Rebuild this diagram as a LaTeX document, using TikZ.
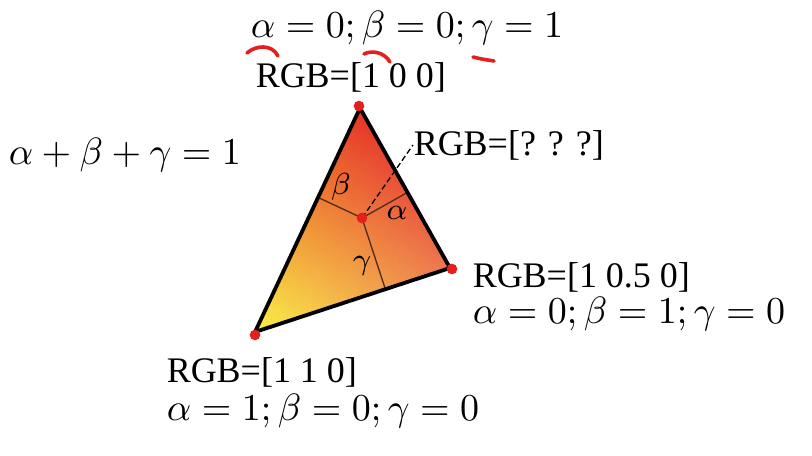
\documentclass[tikz,border=0pt]{standalone}
\usepackage[no-math]{fontspec}
\newfontfamily\tnr{Liberation Serif}
\usepackage{pgfplots}
\pgfplotsset{compat=1.18}
\usetikzlibrary{calc}
\definecolor{ctop}{RGB}{230,50,38}
\definecolor{cright}{RGB}{237,118,78}
\definecolor{cleft}{RGB}{250,240,72}
\definecolor{dotred}{RGB}{228,32,30}
\definecolor{thinc}{RGB}{80,45,30}
\tikzset{
 lbl/.style={anchor=base west, inner sep=0pt, font=\tnr\fontsize{9.47}{11}\selectfont},
 mth/.style={anchor=base west, inner sep=0pt, font=\fontsize{10}{12}\selectfont},
 greek/.style={inner sep=0pt, font=\fontsize{8}{10}\selectfont},
 triedge/.style={line width=1pt, line join=round, draw=black},
 perp/.style={line width=0.35pt, draw=thinc},
 vdot/.style={circle, fill=dotred, inner sep=0pt, minimum size=2.8pt},
 ink/.style={draw=dotred, line width=0.95pt, line cap=round},
 dashline/.style={draw=black, line width=0.35pt, dash pattern=on 1.5pt off 0.8pt},
}
\begin{document}
\begin{tikzpicture}[x=0.2632pt,y=-0.2632pt]
\useasboundingbox[fill=white] (0,0) rectangle (812,456);
\begin{axis}[at={(0,0)}, anchor=north west, x=0.2632pt, y=0.2632pt, y dir=reverse,
  xmin=0, xmax=812, ymin=0, ymax=456, hide axis, scale only axis, enlargelimits=false]
\addplot[patch, shader=interp, mesh/color input=explicit] table[meta=c]{
x y c
360 108 color=ctop
450 268 color=cright
255 332 color=cleft
};
\end{axis}
\coordinate (T) at (360,108);
\coordinate (R) at (450,268);
\coordinate (L) at (255,332);
\coordinate (P) at (362,218);
\coordinate (fL) at ($(T)!(P)!(L)$);
\coordinate (fR) at ($(T)!(P)!(R)$);
\coordinate (fB) at ($(R)!(P)!(L)$);
% labels
\node[mth] (top) at (250,38) {$\alpha=0;\beta=0;\gamma=1$};
\node[lbl] (rgbT) at (255,88) {RGB=[1 0 0]};
\node[lbl] (rgbQ) at (413,155) {RGB=[? ? ?]};
\node[mth] (sum) at (8,164) {$\alpha+\beta+\gamma=1$};
\node[lbl] (rgbR) at (472,287) {RGB=[1 0.5 0]};
\node[mth] (mR) at (472,323) {$\alpha=0;\beta=1;\gamma=0$};
\node[lbl] (rgbL) at (166,382) {RGB=[1 1 0]};
\node[mth] (mL) at (166,420) {$\alpha=1;\beta=0;\gamma=0$};
% split lines
\draw[perp] (P) -- (fL);
\draw[perp] (P) -- (fR);
\draw[perp] (P) -- (fB);
\draw[dashline] (P) -- (rgbQ.west);
\node[greek] (gb) at (341,187) {$\beta$};
\node[greek] (ga) at (397,213) {$\alpha$};
\node[greek] (gc) at (362,266) {$\gamma$};
% triangle
\draw[triedge] (T) -- (R) -- (L) -- cycle;
% dots
\node[vdot] (dT) at (359,106) {};
\node[vdot] (dR) at (452,269) {};
\node[vdot] (dL) at (255,335) {};
\node[vdot] (dP) at (362,218) {};
% hand marks
\draw[ink] (247,53) .. controls (256,45) and (272,44) .. (278,56);
\draw[ink] (364,54) .. controls (372,50) and (384,52) .. (390,62);
\draw[ink] (473,57) .. controls (480,59) and (488,60) .. (494,61);
\end{tikzpicture}
\end{document}
